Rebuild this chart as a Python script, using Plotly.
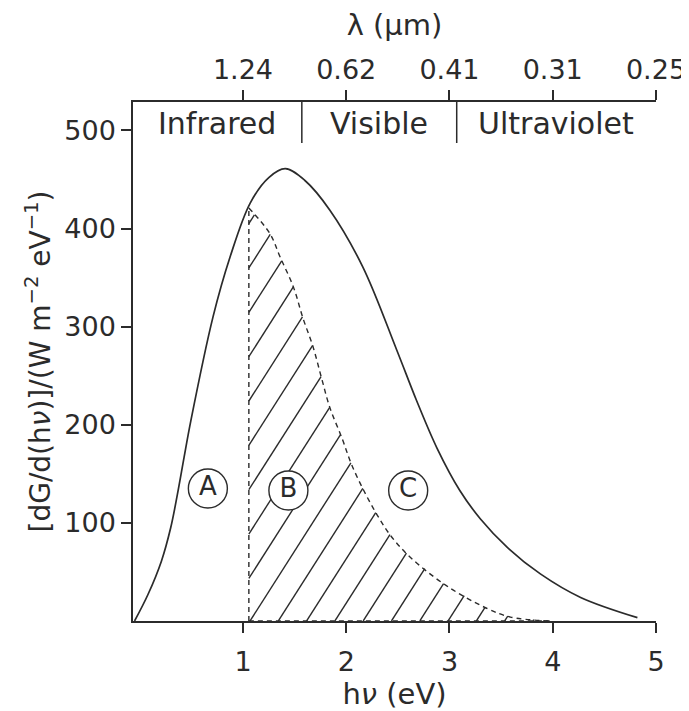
import numpy as np
import plotly.graph_objects as go

# ---------------- data ----------------
# solar spectrum, photon energy (eV) vs dG/d(hv) (W m^-2 eV^-1)
ev = [-0.05, 0.08, 0.21, 0.30, 0.365, 0.43, 0.495, 0.71, 0.875, 1.07, 1.25, 1.41,
      1.60, 1.84, 2.16, 2.49, 2.68, 2.88, 3.10, 3.30, 3.56, 3.88, 4.27, 4.82]
flux = [0, 27, 61, 95, 129, 167, 204, 310, 371, 426, 452, 461,
        449, 419, 361, 276, 225, 176, 133, 104, 75, 48, 24, 3.4]

# dashed boundary of region B
b_ev = [1.057, 1.26, 1.36, 1.49, 1.58, 1.68, 1.76, 1.84, 1.96, 2.05, 2.17,
        2.30, 2.43, 2.62, 2.97, 3.36, 3.59, 3.97]
b_flux = [421, 395, 371, 340, 309, 279, 248, 218, 186, 160, 133,
          108, 87, 65, 36, 13, 4, 0]

# top axis: wavelength labels at energy ticks
ev_ticks = [1, 2, 3, 4, 5]
lambda_labels = ["1.24", "0.62", "0.41", "0.31", "0.25"]

# spectral regions
regions = ["Infrared", "Visible", "Ultraviolet"]
region_bounds = [1.57, 3.07]

# circled region labels
area_labels = ["A", "B", "C"]
area_ev = [0.66, 1.44, 2.60]
area_y = [135, 133, 133]

# ---------------- style ----------------
X_RANGE = [-0.065, 5.0]
Y_RANGE = [0, 529]
INK = "#2b2b2b"
FONT = "DejaVu Sans"
HATCH_SLOPE = 165.0      # data units per eV
HATCH_STEP = 0.274       # eV between hatch lines at the baseline
HATCH_OFFSET = 0.011

fig = go.Figure()

# hatch lines inside region B, clipped to the dashed boundary
xs = np.linspace(b_ev[0], b_ev[-1], 4000)
top = np.interp(xs, b_ev, b_flux)
hx, hy = [], []
for k in range(-15, 15):
    c = b_ev[0] + HATCH_OFFSET + k * HATCH_STEP
    yl = HATCH_SLOPE * (xs - c)
    m = (yl >= 0) & (yl <= top)
    if m.sum() < 2:
        continue
    idx = np.where(m)[0]
    hx += [xs[idx[0]], xs[idx[-1]], None]
    hy += [yl[idx[0]], yl[idx[-1]], None]
fig.add_trace(go.Scatter(x=hx, y=hy, mode="lines",
                         line=dict(color=INK, width=1.4), hoverinfo="skip"))

# dashed boundary of B
dash = "5px,4px"
fig.add_trace(go.Scatter(x=b_ev, y=b_flux, mode="lines",
                         line=dict(color=INK, width=1.4, dash=dash, shape="spline", smoothing=1.0)))
fig.add_trace(go.Scatter(x=[b_ev[0], b_ev[0]], y=[0, b_flux[0]], mode="lines",
                         line=dict(color=INK, width=1.4, dash=dash)))
fig.add_trace(go.Scatter(x=[b_ev[0], b_ev[-1]], y=[0, 0], mode="lines",
                         line=dict(color=INK, width=1.4, dash=dash)))

# full spectrum
fig.add_trace(go.Scatter(x=ev, y=flux, mode="lines",
                         line=dict(color=INK, width=1.7, shape="spline", smoothing=1.0)))

# circled labels
fig.add_trace(go.Scatter(x=area_ev, y=area_y, mode="markers+text", text=area_labels,
                         textposition="middle center",
                         textfont=dict(family=FONT, size=26, color=INK),
                         marker=dict(symbol="circle", size=39, color="white",
                                     line=dict(color=INK, width=1.4))))

# trace on the top axis (keeps it drawn)
fig.add_trace(go.Scatter(x=[ev_ticks[0]], y=[-100], xaxis="x2", yaxis="y",
                         mode="markers", marker=dict(opacity=0), hoverinfo="skip"))

# region dividers and labels
shapes = []
for b in region_bounds:
    shapes.append(dict(type="line", xref="x", yref="paper", x0=b, x1=b, y0=0.921, y1=1.0,
                       line=dict(color=INK, width=1.5)))
edges = [X_RANGE[0]] + region_bounds + [X_RANGE[1]]
annotations = []
for i, name in enumerate(regions):
    annotations.append(dict(x=(edges[i] + edges[i + 1]) / 2, y=0.959, xref="x", yref="paper",
                            xanchor="center", yanchor="middle",
                            text=name, showarrow=False,
                            font=dict(family=FONT, size=30, color=INK)))

axis_common = dict(showline=True, linecolor=INK, linewidth=1.5, ticks="outside",
                   ticklen=10, tickwidth=1.5, tickcolor=INK, showgrid=False, zeroline=False,
                   automargin=False,
                   tickfont=dict(family=FONT, size=27, color=INK))
title_font = dict(family=FONT, size=29, color=INK)

# the page body adds an 8px offset, so margins are shifted accordingly
fig.update_layout(
    width=689, height=711,
    margin=dict(l=125, r=41, t=94, b=98),
    paper_bgcolor="white", plot_bgcolor="white",
    showlegend=False,
    font=dict(family=FONT, size=27, color=INK),
    shapes=shapes, annotations=annotations,
    xaxis=dict(range=X_RANGE, tickvals=ev_ticks, ticklabelstandoff=6,
               title=dict(text="h<i>ν</i> (eV)", standoff=0, font=title_font),
               **axis_common),
    xaxis2=dict(range=X_RANGE, overlaying="x", side="top", anchor="y",
                tickvals=ev_ticks, ticktext=lambda_labels,
                title=dict(text="λ (μm)", standoff=16, font=title_font),
                **axis_common),
    yaxis=dict(range=Y_RANGE, tickvals=[100, 200, 300, 400, 500],
               title=dict(text="[dG/d(h<i>ν</i>)]/(W m<sup>−2</sup> eV<sup>−1</sup>)", standoff=6,
                          font=dict(family=FONT, size=28, color=INK)),
               **axis_common),
)

fig.write_html("out.html")
